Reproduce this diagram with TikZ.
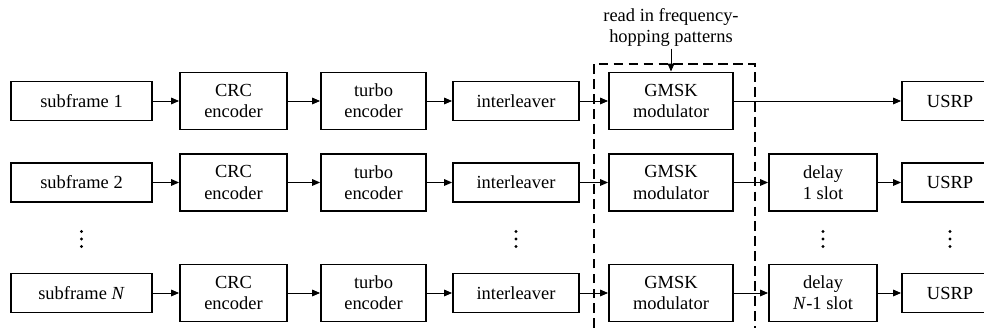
\documentclass[tikz,border=0pt]{standalone}
\usepackage{fontspec}
\setmainfont{Liberation Serif}
\usetikzlibrary{arrows.meta}

\begin{document}
\begin{tikzpicture}
  \tikzset{blk/.style = {draw, line width=1.1pt, minimum height=0.78cm, inner sep=1pt, align=center, font=\fontsize{10.5}{12}\selectfont}}
  \tikzset{tall/.style = {blk, minimum height=1.14cm}}
  \tikzset{link/.style = {-{Triangle[length=4.5pt,width=3.8pt]}, line width=0.5pt}}

\useasboundingbox (0,0) rectangle (19.68,6.56);

% first row
\node[blk, minimum width=2.82cm] (sf1)  at (1.63,4.54) {subframe 1};
\node[tall, minimum width=2.14cm] (crc1) at (4.67,4.54) {CRC\\encoder};
\node[tall, minimum width=2.10cm] (tc1)  at (7.47,4.54) {turbo\\encoder};
\node[blk, minimum width=2.52cm] (il1)  at (10.32,4.54) {interleaver};
\node[tall, minimum width=2.48cm] (gm1)  at (13.42,4.54) {GMSK\\modulator};
\node[blk, minimum width=1.92cm] (us1)  at (19.00,4.54) {USRP};

% second row
\node[blk, minimum width=2.82cm] (sf2)  at (1.63,2.91) {subframe 2};
\node[tall, minimum width=2.14cm] (crc2) at (4.67,2.91) {CRC\\encoder};
\node[tall, minimum width=2.10cm] (tc2)  at (7.47,2.91) {turbo\\encoder};
\node[blk, minimum width=2.52cm] (il2)  at (10.32,2.91) {interleaver};
\node[tall, minimum width=2.48cm] (gm2)  at (13.42,2.91) {GMSK\\modulator};
\node[tall, minimum width=2.16cm] (dl2)  at (16.46,2.91) {delay\\1 slot};
\node[blk, minimum width=1.92cm] (us2)  at (19.00,2.91) {USRP};

% last row
\node[blk, minimum width=2.82cm] (sfn)  at (1.63,0.70) {subframe \textit{N}};
\node[tall, minimum width=2.14cm] (crcn) at (4.67,0.70) {CRC\\encoder};
\node[tall, minimum width=2.10cm] (tcn)  at (7.47,0.70) {turbo\\encoder};
\node[blk, minimum width=2.52cm] (iln)  at (10.32,0.70) {interleaver};
\node[tall, minimum width=2.48cm] (gmn)  at (13.42,0.70) {GMSK\\modulator};
\node[tall, minimum width=2.16cm] (dln)  at (16.46,0.70) {delay\\\textit{N}-1 slot};
\node[blk, minimum width=1.92cm] (usn)  at (19.00,0.70) {USRP};

% vertical dots between row 2 and row N
\foreach \x in {1.63,10.32,16.46,19.00}
  \foreach \y in {-0.15,0,0.15}
    \fill (\x,1.78+\y) circle (0.032);

% hopping pattern input
\node[align=center, font=\fontsize{10.5}{12}\selectfont, inner sep=1pt] (hop) at (13.42,6.01) {read in frequency-\\hopping patterns};
\draw[link] (hop.south) -- (gm1.north);

\draw[dashed, line width=1.1pt, dash pattern=on 5.5pt off 3pt] (11.88,-0.3) rectangle (15.10,5.28);

  \path[link] (sf1) edge (crc1) (crc1) edge (tc1) (tc1) edge (il1) (il1) edge (gm1) (gm1) edge (us1);
  \path[link] (sf2) edge (crc2) (crc2) edge (tc2) (tc2) edge (il2) (il2) edge (gm2) (gm2) edge (dl2) (dl2) edge (us2);
  \path[link] (sfn) edge (crcn) (crcn) edge (tcn) (tcn) edge (iln) (iln) edge (gmn) (gmn) edge (dln) (dln) edge (usn);

\end{tikzpicture}
\end{document}
